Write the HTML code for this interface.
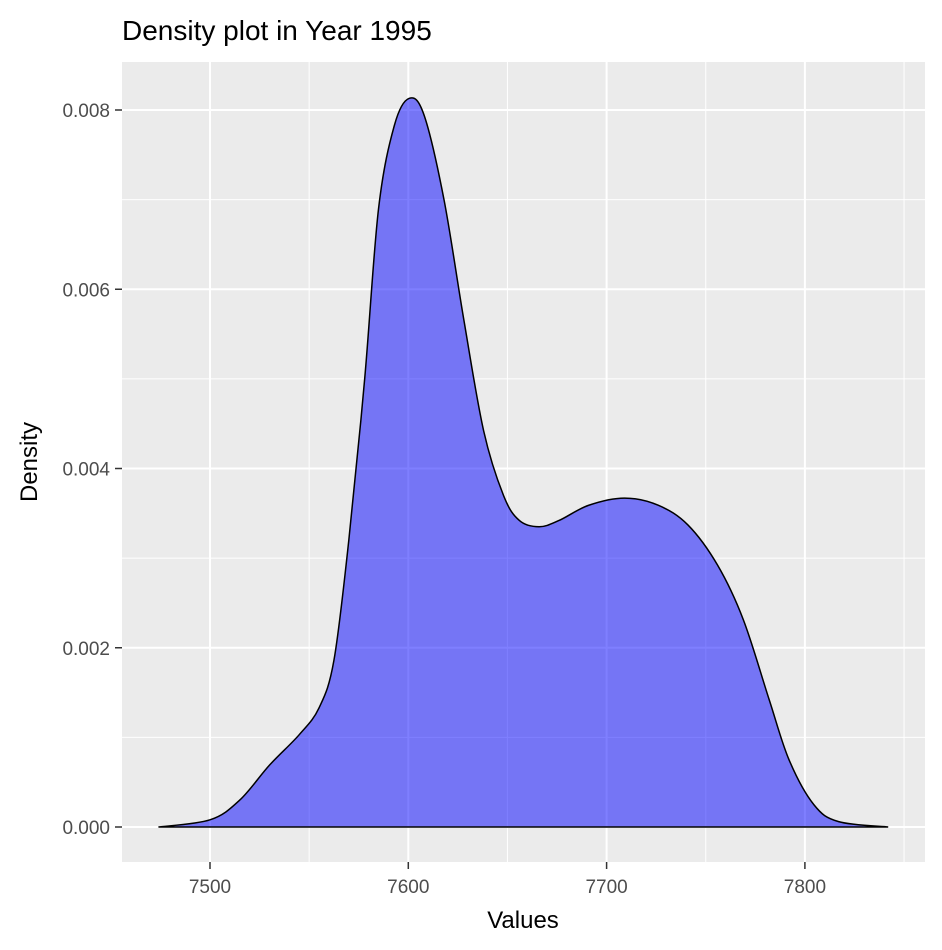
<!DOCTYPE html>
<html><head><meta charset="utf-8"><style>
html,body{margin:0;padding:0;background:#fff;}
svg{display:block;font-family:"Liberation Sans",Arial,sans-serif;}
</style></head><body>
<svg id="chart" width="942" height="950">
<text x="122" y="40" font-size="28" fill="#000">Density plot in Year 1995</text>
<rect x="122" y="62" width="803" height="800" fill="#ebebeb"/>
<g id="grid"></g>
<path id="area" fill="rgba(0,0,255,0.5)" stroke="#000" stroke-width="1.5"/>
<g id="axes"></g>
<text x="523" y="928" font-size="24" text-anchor="middle">Values</text>
<text transform="translate(37,462) rotate(-90)" font-size="24" text-anchor="middle">Density</text>
</svg>
<script>
const xTicks=[7500,7600,7700,7800];
const xMinor=[7550,7650,7750,7850];
const yTicks=[0,0.002,0.004,0.006,0.008];
const yTickLabels=["0.000","0.002","0.004","0.006","0.008"];
const yMinor=[0.001,0.003,0.005,0.007];
const xs=[7474,7500,7515,7530,7545,7555,7562.5,7570,7578,7585,7593,7600.5,7608,7618,7628,7638,7648,7656,7666,7676,7691,7709,7726,7741,7756,7769,7782,7792,7804.5,7817,7842];
const ys=[0,0.00008,0.0003,0.00069,0.00103,0.00133,0.00186,0.0032,0.005,0.0069,0.00783,0.00813,0.00794,0.007,0.00566,0.00442,0.0037,0.00342,0.00335,0.00342,0.00359,0.00367,0.00359,0.00337,0.00292,0.00231,0.00142,0.00075,0.00025,0.00006,0];
const X=v=>210+(v-7500)*1.983;
const Y=v=>827-v*89625;
const NS="http://www.w3.org/2000/svg";
const grid=document.getElementById('grid'),axes=document.getElementById('axes');
function line(p,x1,y1,x2,y2,w,c,n){const l=document.createElementNS(NS,'line');l.setAttribute('x1',x1);l.setAttribute('y1',y1);l.setAttribute('x2',x2);l.setAttribute('y2',y2);l.setAttribute('stroke',c);l.setAttribute('stroke-width',w);


p.appendChild(l);}
function txt(s,x,y,a,n){const t=document.createElementNS(NS,'text');t.textContent=s;t.setAttribute('x',x);t.setAttribute('y',y);t.setAttribute('text-anchor',a);t.setAttribute('font-size','19');t.setAttribute('fill','#4d4d4d');


axes.appendChild(t);}
yMinor.forEach(v=>line(grid,122,Y(v),925,Y(v),1,'#fff','y-minor-gridline'));
xMinor.forEach(v=>line(grid,X(v),62,X(v),862,1,'#fff','x-minor-gridline'));
yTicks.forEach((v,i)=>{line(grid,122,Y(v),925,Y(v),2,'#fff','y-major-gridline');line(axes,115,Y(v),122,Y(v),1.5,'#333','y-tick');txt(yTickLabels[i],110,Y(v)+7,'end','y-tick-label');});
xTicks.forEach(v=>{line(grid,X(v),62,X(v),862,2,'#fff','x-major-gridline');line(axes,X(v),862,X(v),869,1.5,'#333','x-tick');txt(String(v),X(v),893,'middle','x-tick-label');});
const P=xs.map((x,i)=>[X(x),Y(ys[i])]);
let d='M'+P[0][0]+','+P[0][1];
for(let i=0;i<P.length-1;i++){const p0=P[Math.max(0,i-1)],p1=P[i],p2=P[i+1],p3=P[Math.min(P.length-1,i+2)];
d+=` C${p1[0]+(p2[0]-p0[0])/6},${p1[1]+(p2[1]-p0[1])/6} ${p2[0]-(p3[0]-p1[0])/6},${p2[1]-(p3[1]-p1[1])/6} ${p2[0]},${p2[1]}`;}
d+=' Z';
document.getElementById('area').setAttribute('d',d);
</script>
</body></html>
